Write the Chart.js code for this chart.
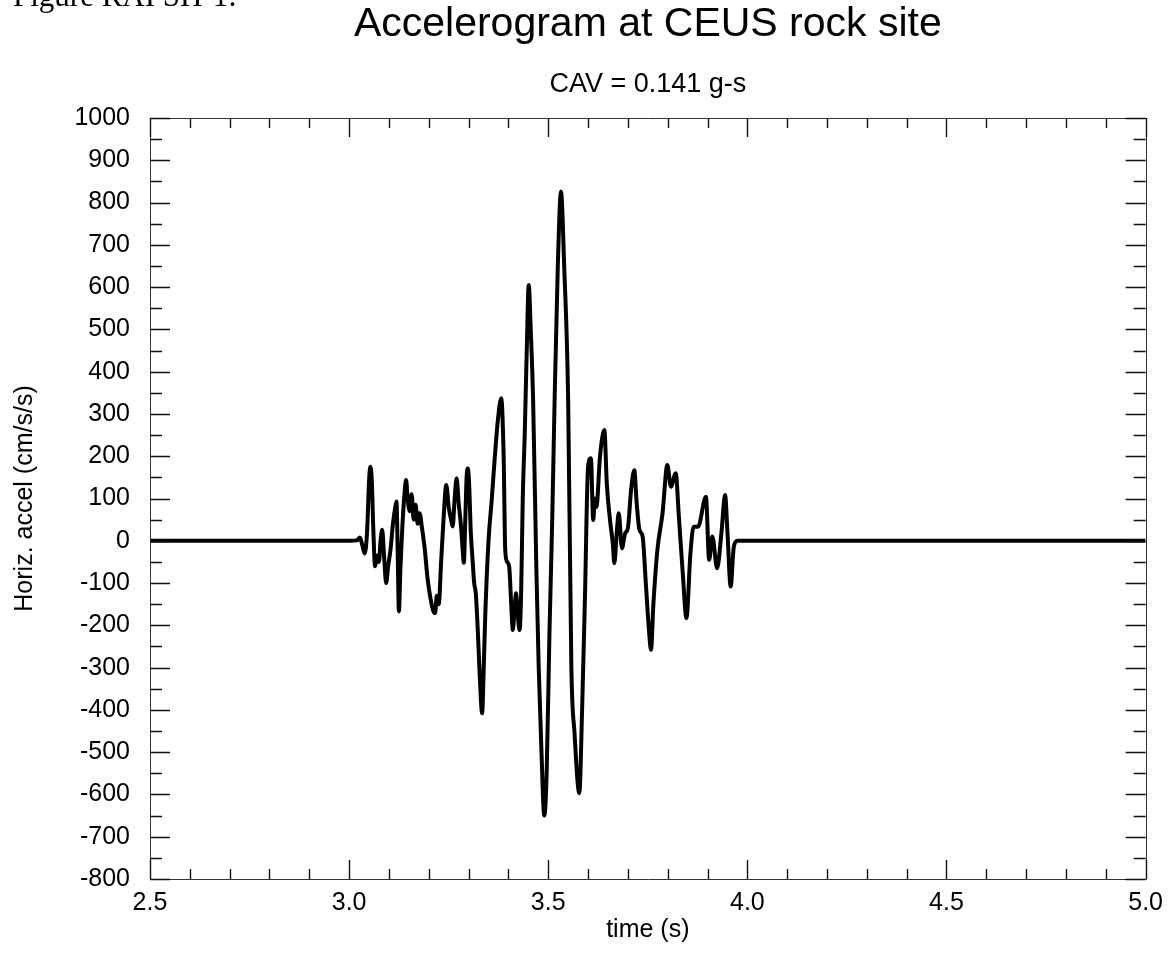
<!DOCTYPE html>
<html>
<head>
<meta charset="utf-8">
<script src="https://cdn.jsdelivr.net/npm/chart.js@4.4.1/dist/chart.umd.min.js"></script>
<style>
  html, body { margin: 0; padding: 0; background: #ffffff; overflow: hidden; }
  #wrap { position: relative; width: 1172px; height: 955px; }
  #fig { position: absolute; left: 13px; top: -20px; font-family: "Liberation Serif", "Times New Roman", serif; font-size: 31px; line-height: 31px; color: #000; white-space: nowrap; }
  canvas { position: absolute; left: 0; top: 0; }
</style>
</head>
<body>
<div id="wrap">
  <canvas id="c" width="1172" height="955"></canvas>
  <div id="fig">Figure RAI SH-1:</div>
</div>
<script>
// ---- data ----
const titleText = "Accelerogram at CEUS rock site";
const subtitleText = "CAV = 0.141 g-s";
const xAxisLabel = "time (s)";
const yAxisLabel = "Horiz. accel (cm/s/s)";

const xTickValues = [2.5, 3.0, 3.5, 4.0, 4.5, 5.0];
const yMin = -800, yMax = 1000, yStep = 100;

const times = [
  2.500, 3.000, 3.020, 3.027, 3.033, 3.039, 3.045, 3.050, 3.053, 3.057,
  3.061, 3.065, 3.070, 3.075, 3.079, 3.083, 3.088, 3.093, 3.098, 3.104,
  3.110, 3.116, 3.119, 3.122, 3.125, 3.129, 3.134, 3.139, 3.143, 3.147,
  3.152, 3.157, 3.162, 3.167, 3.172, 3.177, 3.183, 3.190, 3.197, 3.205,
  3.211, 3.216, 3.220, 3.225, 3.231, 3.237, 3.244, 3.250, 3.256, 3.260,
  3.265, 3.270, 3.275, 3.281, 3.285, 3.288, 3.292, 3.295, 3.298, 3.302,
  3.305, 3.310, 3.314, 3.318, 3.323, 3.328, 3.334, 3.338, 3.342, 3.350,
  3.358, 3.366, 3.374, 3.382, 3.388, 3.392, 3.397, 3.402, 3.407, 3.411,
  3.415, 3.419, 3.424, 3.428, 3.432, 3.436, 3.441, 3.446, 3.451, 3.456,
  3.462, 3.470, 3.476, 3.483, 3.490, 3.496, 3.503, 3.510, 3.516, 3.524,
  3.532, 3.540, 3.550, 3.558, 3.566, 3.578, 3.585, 3.592, 3.600, 3.607,
  3.613, 3.617, 3.621, 3.630, 3.641, 3.647, 3.655, 3.662, 3.666, 3.672,
  3.677, 3.685, 3.693, 3.700, 3.708, 3.716, 3.722, 3.729, 3.737, 3.745,
  3.752, 3.758, 3.764, 3.774, 3.787, 3.799, 3.808, 3.820, 3.828, 3.838,
  3.847, 3.857, 3.865, 3.876, 3.896, 3.904, 3.912, 3.924, 3.935, 3.944,
  3.950, 3.958, 3.966, 3.975, 5.000
];
const accel = [
  0, 0, 1, 8, -10, -30, 20, 140, 175, 140,
  20, -60, -35, -50, 0, 26, -40, -100, -60, -20,
  40, 80, 93, -30, -167, -60, 40, 110, 144, 100,
  70, 110, 50, 85, 40, 65, 30, -20, -90, -140,
  -165, -171, -130, -150, -50, 50, 132, 80, 50, 34,
  100, 148, 90, 34, -20, -52, 60, 150, 171, 120,
  30, -45, -100, -124, -210, -320, -408, -300, -171, 0,
  96, 200, 290, 337, 200, -22, -50, -62, -150, -211,
  -170, -124, -180, -211, -120, 100, 254, 450, 605, 500,
  333, -60, -298, -500, -650, -550, -219, 50, 333, 650,
  826, 650, 333, -298, -455, -597, -400, -140, 175, 195,
  49, 100, 80, 200, 262, 136, 50, -6, -53, 20,
  65, -18, 18, 30, 120, 167, 90, 26, 10, -100,
  -200, -258, -150, -22, 65, 179, 128, 160, 57, -80,
  -183, -30, 33, 33, 104, -45, 10, -65, 20, 108,
  20, -108, -14, 0, 0
];

const points = times.map((t, i) => ({ x: t, y: accel[i] }));

const FONT = '"Liberation Sans", Arial, Helvetica, sans-serif';

// frame + inward tick marks on all four sides, positioned through the chart scales
const framePlugin = {
  id: 'frame',
  afterDraw(chart) {
    const { ctx, chartArea: a, scales } = chart;
    const xs = scales.x, ys = scales.y;
    ctx.save();
    ctx.strokeStyle = '#333';
    ctx.lineWidth = 1;
    ctx.beginPath();
    ctx.rect(Math.round(a.left) + 0.5, Math.round(a.top) + 0.5,
             Math.round(a.right - a.left), Math.round(a.bottom - a.top));
    ctx.stroke();
    ctx.lineWidth = 1.4;
    ctx.strokeStyle = '#111';
    ctx.beginPath();
    // y ticks every 50 (major every 100)
    for (let v = yMin; v <= yMax; v += 50) {
      const py = Math.round(ys.getPixelForValue(v)) + 0.5;
      const len = (v % 100 === 0) ? 20 : 12;
      ctx.moveTo(a.left, py); ctx.lineTo(a.left + len, py);
      ctx.moveTo(a.right, py); ctx.lineTo(a.right - len, py);
    }
    // x ticks every 0.1 (major every 0.5)
    for (let i = 0; i <= 25; i++) {
      const t = 2.5 + i * 0.1;
      const px = Math.round(xs.getPixelForValue(t)) + 0.5;
      const len = (i % 5 === 0) ? 19 : 10;
      ctx.moveTo(px, a.bottom); ctx.lineTo(px, a.bottom - len);
      ctx.moveTo(px, a.top); ctx.lineTo(px, a.top + len);
    }
    ctx.stroke();
    ctx.restore();
  }
};

new Chart(document.getElementById('c'), {
  type: 'line',
  data: {
    datasets: [{
      data: points,
      borderColor: '#000000',
      borderWidth: 4,
      pointRadius: 0,
      fill: false,
      cubicInterpolationMode: 'monotone'
    }]
  },
  options: {
    responsive: false,
    animation: false,
    devicePixelRatio: 1,
    layout: { padding: { left: 0, right: 25, top: 0, bottom: 0 } },
    plugins: {
      legend: { display: false },
      tooltip: { enabled: false },
      title: {
        display: true,
        text: titleText,
        fullSize: false,
        color: '#000',
        font: { family: FONT, size: 41, weight: 'normal', lineHeight: 1.2 },
        padding: { top: 0, bottom: 19.6 }
      },
      subtitle: {
        display: true,
        text: subtitleText,
        fullSize: false,
        color: '#000',
        font: { family: FONT, size: 27, weight: 'normal', lineHeight: 1.2 },
        padding: { top: 0, bottom: 16.8 }
      }
    },
    scales: {
      x: {
        type: 'linear',
        position: 'bottom',
        min: 2.5,
        max: 5.0,
        afterBuildTicks(scale) { scale.ticks = xTickValues.map(v => ({ value: v })); },
        afterFit(scale) { scale.height = 76; },
        grid: { display: false, drawTicks: false, tickLength: 0 },
        border: { display: false },
        ticks: {
          color: '#000',
          padding: 9,
          maxRotation: 0,
          autoSkip: false,
          font: { family: FONT, size: 25 },
          callback: v => Number(v).toFixed(1)
        },
        title: {
          display: true,
          text: xAxisLabel,
          color: '#000',
          font: { family: FONT, size: 25 },
          padding: { top: 0, bottom: 10 }
        }
      },
      y: {
        type: 'linear',
        position: 'left',
        min: yMin,
        max: yMax,
        afterFit(scale) { scale.width = 150; },
        grid: { display: false, drawTicks: false, tickLength: 0 },
        border: { display: false },
        ticks: {
          stepSize: yStep,
          color: '#000',
          padding: 20,
          autoSkip: false,
          font: { family: FONT, size: 25 },
          callback: v => String(v)
        },
        title: {
          display: true,
          text: yAxisLabel,
          color: '#000',
          font: { family: FONT, size: 25 },
          padding: { top: 10, bottom: 0 }
        }
      }
    }
  },
  plugins: [framePlugin]
});
</script>
</body>
</html>
